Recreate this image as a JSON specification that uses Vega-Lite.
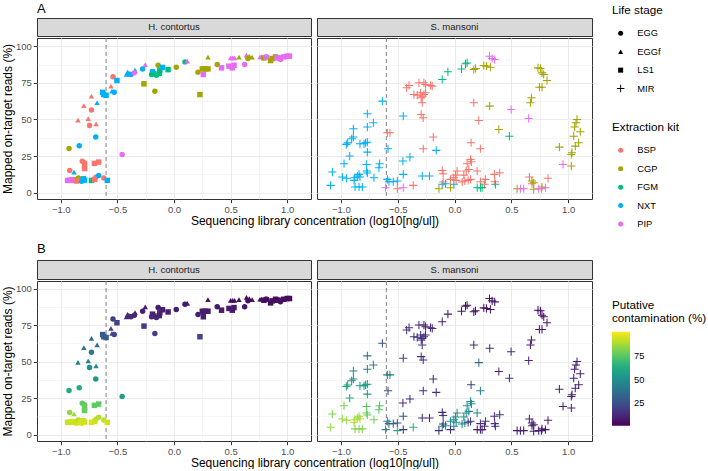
{
"$schema": "https://vega.github.io/schema/vega-lite/v6.json",
"padding": {"left": 0, "top": 2, "right": 0, "bottom": 0},
"background": "white",
"config": {
  "font": "Liberation Sans",
  "view": {"stroke": "#333333", "strokeWidth": 1},
  "axis": {"domain": false, "gridColor": "#ebebeb", "tickColor": "#333333", "tickSize": 3.7, "tickWidth": 1, "labelColor": "#4d4d4d", "labelFontSize": 9.5, "labelPadding": 2, "titleFontSize": 12, "titleFontWeight": "normal", "titleColor": "black", "labelOverlap": false, "labelFlush": false, "labelBound": false},
  "legend": {"titleFontSize": 11.7, "titleFontWeight": "normal", "titleColor": "black", "labelFontSize": 9.3, "labelColor": "black", "symbolSize": 25, "rowPadding": 8.4, "labelOffset": 12, "symbolOffset": 4, "titlePadding": 12, "symbolStrokeWidth": 0},
  "title": {"fontWeight": "normal", "color": "black"}
},
"datasets": {"pts": [
{"sp":"H. contortus","x":-0.539,"y":79.1,"st":"EGG","kit":"BSP","c":18},
{"sp":"H. contortus","x":-0.504,"y":76.6,"st":"LS1","kit":"NXT","c":20},
{"sp":"H. contortus","x":-0.557,"y":72.7,"st":"EGGf","kit":"BSP","c":22},
{"sp":"H. contortus","x":-0.63,"y":68.5,"st":"LS1","kit":"NXT","c":28},
{"sp":"H. contortus","x":-0.62,"y":67,"st":"LS1","kit":"NXT","c":30},
{"sp":"H. contortus","x":-0.60,"y":66.5,"st":"LS1","kit":"NXT","c":30},
{"sp":"H. contortus","x":-0.548,"y":69.3,"st":"EGGf","kit":"NXT","c":22},
{"sp":"H. contortus","x":-0.528,"y":68.6,"st":"EGG","kit":"NXT","c":22},
{"sp":"H. contortus","x":-0.729,"y":65.9,"st":"EGGf","kit":"BSP","c":35},
{"sp":"H. contortus","x":-0.679,"y":61.4,"st":"EGGf","kit":"NXT","c":38},
{"sp":"H. contortus","x":-0.796,"y":59.5,"st":"EGGf","kit":"BSP","c":40},
{"sp":"H. contortus","x":-0.729,"y":56.4,"st":"EGG","kit":"BSP","c":42},
{"sp":"H. contortus","x":-0.848,"y":49.5,"st":"EGGf","kit":"BSP","c":45},
{"sp":"H. contortus","x":-0.758,"y":50.5,"st":"EGGf","kit":"BSP","c":45},
{"sp":"H. contortus","x":-0.746,"y":45.9,"st":"EGG","kit":"BSP","c":50},
{"sp":"H. contortus","x":-0.688,"y":47,"st":"EGGf","kit":"BSP","c":48},
{"sp":"H. contortus","x":-0.691,"y":38,"st":"EGG","kit":"NXT","c":55},
{"sp":"H. contortus","x":-0.837,"y":32,"st":"EGG","kit":"NXT","c":62},
{"sp":"H. contortus","x":-0.927,"y":30.2,"st":"EGG","kit":"CGP","c":62},
{"sp":"H. contortus","x":-0.458,"y":26.1,"st":"EGG","kit":"PIP","c":58},
{"sp":"H. contortus","x":-0.81,"y":21.5,"st":"EGG","kit":"BSP","c":76},
{"sp":"H. contortus","x":-0.79,"y":20.5,"st":"EGG","kit":"BSP","c":77},
{"sp":"H. contortus","x":-0.79,"y":18.5,"st":"LS1","kit":"BSP","c":78},
{"sp":"H. contortus","x":-0.79,"y":16.5,"st":"LS1","kit":"BSP","c":78},
{"sp":"H. contortus","x":-0.703,"y":20,"st":"LS1","kit":"BSP","c":77},
{"sp":"H. contortus","x":-0.665,"y":20.9,"st":"LS1","kit":"BSP","c":76},
{"sp":"H. contortus","x":-0.921,"y":15.2,"st":"EGG","kit":"BSP","c":85},
{"sp":"H. contortus","x":-0.883,"y":14.1,"st":"EGGf","kit":"NXT","c":86},
{"sp":"H. contortus","x":-0.94,"y":8.4,"st":"LS1","kit":"PIP","c":93},
{"sp":"H. contortus","x":-0.92,"y":8.4,"st":"LS1","kit":"PIP","c":93},
{"sp":"H. contortus","x":-0.90,"y":8.9,"st":"LS1","kit":"PIP","c":94},
{"sp":"H. contortus","x":-0.88,"y":8.4,"st":"LS1","kit":"PIP","c":94},
{"sp":"H. contortus","x":-0.87,"y":9,"st":"EGG","kit":"BSP","c":92},
{"sp":"H. contortus","x":-0.86,"y":8,"st":"LS1","kit":"BSP","c":94},
{"sp":"H. contortus","x":-0.845,"y":10,"st":"EGG","kit":"CGP","c":90},
{"sp":"H. contortus","x":-0.83,"y":8.4,"st":"LS1","kit":"BSP","c":95},
{"sp":"H. contortus","x":-0.815,"y":7.8,"st":"EGG","kit":"NXT","c":95},
{"sp":"H. contortus","x":-0.80,"y":9.5,"st":"LS1","kit":"NXT","c":93},
{"sp":"H. contortus","x":-0.79,"y":8.6,"st":"LS1","kit":"NXT","c":94},
{"sp":"H. contortus","x":-0.729,"y":8.4,"st":"LS1","kit":"FGM","c":95},
{"sp":"H. contortus","x":-0.70,"y":9,"st":"LS1","kit":"BSP","c":94},
{"sp":"H. contortus","x":-0.69,"y":10.5,"st":"EGG","kit":"BSP","c":92},
{"sp":"H. contortus","x":-0.665,"y":11.8,"st":"EGG","kit":"NXT","c":90},
{"sp":"H. contortus","x":-0.62,"y":10,"st":"EGG","kit":"BSP","c":92},
{"sp":"H. contortus","x":-0.589,"y":8.4,"st":"LS1","kit":"NXT","c":94},
{"sp":"H. contortus","x":-0.42,"y":80.7,"st":"EGGf","kit":"NXT","c":12},
{"sp":"H. contortus","x":-0.41,"y":82.3,"st":"EGGf","kit":"NXT","c":12},
{"sp":"H. contortus","x":-0.40,"y":81,"st":"EGG","kit":"NXT","c":12},
{"sp":"H. contortus","x":-0.38,"y":80.7,"st":"EGG","kit":"NXT","c":12},
{"sp":"H. contortus","x":-0.344,"y":83.6,"st":"EGGf","kit":"NXT","c":10},
{"sp":"H. contortus","x":-0.35,"y":81.8,"st":"EGG","kit":"PIP","c":11},
{"sp":"H. contortus","x":-0.277,"y":84.5,"st":"EGG","kit":"NXT","c":10},
{"sp":"H. contortus","x":-0.254,"y":87.5,"st":"EGGf","kit":"PIP","c":8},
{"sp":"H. contortus","x":-0.265,"y":74.3,"st":"LS1","kit":"CGP","c":18},
{"sp":"H. contortus","x":-0.19,"y":82.5,"st":"LS1","kit":"NXT","c":10},
{"sp":"H. contortus","x":-0.18,"y":81.2,"st":"LS1","kit":"NXT","c":11},
{"sp":"H. contortus","x":-0.198,"y":80.7,"st":"EGG","kit":"FGM","c":11},
{"sp":"H. contortus","x":-0.169,"y":69.3,"st":"EGG","kit":"CGP","c":20},
{"sp":"H. contortus","x":-0.155,"y":80.2,"st":"EGG","kit":"FGM","c":11},
{"sp":"H. contortus","x":-0.14,"y":87,"st":"EGG","kit":"CGP","c":8},
{"sp":"H. contortus","x":-0.13,"y":81.5,"st":"LS1","kit":"FGM","c":10},
{"sp":"H. contortus","x":-0.125,"y":83.4,"st":"LS1","kit":"FGM","c":10},
{"sp":"H. contortus","x":-0.102,"y":85.5,"st":"LS1","kit":"NXT","c":9},
{"sp":"H. contortus","x":-0.052,"y":84,"st":"LS1","kit":"FGM","c":9},
{"sp":"H. contortus","x":0.02,"y":85.7,"st":"EGG","kit":"CGP","c":8},
{"sp":"H. contortus","x":0.097,"y":89.3,"st":"EGG","kit":"FGM","c":7},
{"sp":"H. contortus","x":0.118,"y":89.8,"st":"EGGf","kit":"PIP","c":7},
{"sp":"H. contortus","x":0.212,"y":82.3,"st":"EGG","kit":"CGP","c":9},
{"sp":"H. contortus","x":0.25,"y":84.5,"st":"LS1","kit":"CGP","c":8},
{"sp":"H. contortus","x":0.274,"y":84.5,"st":"LS1","kit":"CGP","c":8},
{"sp":"H. contortus","x":0.30,"y":84.5,"st":"LS1","kit":"CGP","c":8},
{"sp":"H. contortus","x":0.259,"y":80.7,"st":"LS1","kit":"PIP","c":10},
{"sp":"H. contortus","x":0.30,"y":92.5,"st":"EGGf","kit":"CGP","c":5},
{"sp":"H. contortus","x":0.229,"y":67,"st":"LS1","kit":"CGP","c":22},
{"sp":"H. contortus","x":0.382,"y":87.5,"st":"EGG","kit":"CGP","c":7},
{"sp":"H. contortus","x":0.42,"y":85.2,"st":"LS1","kit":"PIP","c":8},
{"sp":"H. contortus","x":0.485,"y":86.4,"st":"LS1","kit":"PIP","c":8},
{"sp":"H. contortus","x":0.515,"y":85.2,"st":"LS1","kit":"PIP","c":8},
{"sp":"H. contortus","x":0.53,"y":87,"st":"LS1","kit":"PIP","c":7},
{"sp":"H. contortus","x":0.50,"y":92,"st":"EGGf","kit":"PIP","c":5},
{"sp":"H. contortus","x":0.518,"y":92,"st":"EGGf","kit":"PIP","c":5},
{"sp":"H. contortus","x":0.535,"y":92,"st":"EGGf","kit":"PIP","c":5},
{"sp":"H. contortus","x":0.574,"y":92.5,"st":"EGGf","kit":"CGP","c":5},
{"sp":"H. contortus","x":0.624,"y":87.5,"st":"EGG","kit":"PIP","c":7},
{"sp":"H. contortus","x":0.64,"y":93.9,"st":"EGGf","kit":"PIP","c":4},
{"sp":"H. contortus","x":0.653,"y":91.6,"st":"EGG","kit":"CGP","c":5},
{"sp":"H. contortus","x":0.665,"y":93.2,"st":"EGGf","kit":"CGP","c":4},
{"sp":"H. contortus","x":0.69,"y":92.5,"st":"EGGf","kit":"CGP","c":4},
{"sp":"H. contortus","x":0.76,"y":92.7,"st":"EGGf","kit":"PIP","c":4},
{"sp":"H. contortus","x":0.774,"y":92.7,"st":"EGGf","kit":"PIP","c":4},
{"sp":"H. contortus","x":0.794,"y":92,"st":"LS1","kit":"CGP","c":5},
{"sp":"H. contortus","x":0.81,"y":92.7,"st":"EGG","kit":"PIP","c":4},
{"sp":"H. contortus","x":0.82,"y":92.7,"st":"EGG","kit":"PIP","c":4},
{"sp":"H. contortus","x":0.853,"y":90.2,"st":"LS1","kit":"CGP","c":5},
{"sp":"H. contortus","x":0.868,"y":91.6,"st":"LS1","kit":"CGP","c":5},
{"sp":"H. contortus","x":0.897,"y":92.7,"st":"LS1","kit":"CGP","c":4},
{"sp":"H. contortus","x":0.91,"y":92,"st":"LS1","kit":"PIP","c":4},
{"sp":"H. contortus","x":0.94,"y":92,"st":"LS1","kit":"PIP","c":4},
{"sp":"H. contortus","x":0.94,"y":91,"st":"EGG","kit":"PIP","c":5},
{"sp":"H. contortus","x":0.97,"y":92.7,"st":"LS1","kit":"PIP","c":4},
{"sp":"H. contortus","x":1.0,"y":93.2,"st":"LS1","kit":"PIP","c":4},
{"sp":"H. contortus","x":1.02,"y":93.2,"st":"LS1","kit":"PIP","c":4},
{"sp":"S. mansoni","x":-0.635,"y":62.5,"st":"MIR","kit":"NXT","c":25},
{"sp":"S. mansoni","x":-0.767,"y":53.9,"st":"MIR","kit":"NXT","c":40},
{"sp":"S. mansoni","x":-0.451,"y":52.3,"st":"MIR","kit":"NXT","c":20},
{"sp":"S. mansoni","x":-0.767,"y":44.8,"st":"MIR","kit":"NXT","c":45},
{"sp":"S. mansoni","x":-0.714,"y":47.7,"st":"MIR","kit":"NXT","c":45},
{"sp":"S. mansoni","x":-0.89,"y":43.6,"st":"MIR","kit":"NXT","c":50},
{"sp":"S. mansoni","x":-0.905,"y":36.8,"st":"MIR","kit":"NXT","c":50},
{"sp":"S. mansoni","x":-0.89,"y":38,"st":"MIR","kit":"NXT","c":50},
{"sp":"S. mansoni","x":-0.952,"y":33,"st":"MIR","kit":"NXT","c":60},
{"sp":"S. mansoni","x":-0.94,"y":34,"st":"MIR","kit":"NXT","c":58},
{"sp":"S. mansoni","x":-0.832,"y":33.4,"st":"MIR","kit":"NXT","c":55},
{"sp":"S. mansoni","x":-0.796,"y":33.4,"st":"MIR","kit":"NXT","c":55},
{"sp":"S. mansoni","x":-0.782,"y":34.1,"st":"MIR","kit":"NXT","c":55},
{"sp":"S. mansoni","x":-0.767,"y":34.5,"st":"MIR","kit":"NXT","c":55},
{"sp":"S. mansoni","x":-0.767,"y":27.7,"st":"MIR","kit":"NXT","c":55},
{"sp":"S. mansoni","x":-0.585,"y":30,"st":"MIR","kit":"NXT","c":25},
{"sp":"S. mansoni","x":-0.922,"y":25,"st":"MIR","kit":"NXT","c":62},
{"sp":"S. mansoni","x":-0.392,"y":24.3,"st":"MIR","kit":"NXT","c":15},
{"sp":"S. mansoni","x":-0.454,"y":21.6,"st":"MIR","kit":"NXT","c":15},
{"sp":"S. mansoni","x":-0.972,"y":19.8,"st":"MIR","kit":"NXT","c":80},
{"sp":"S. mansoni","x":-0.773,"y":19.3,"st":"MIR","kit":"NXT","c":75},
{"sp":"S. mansoni","x":-0.659,"y":19.8,"st":"MIR","kit":"NXT","c":75},
{"sp":"S. mansoni","x":-0.665,"y":17,"st":"MIR","kit":"NXT","c":75},
{"sp":"S. mansoni","x":-1.075,"y":14.1,"st":"MIR","kit":"NXT","c":82},
{"sp":"S. mansoni","x":-0.773,"y":14.8,"st":"MIR","kit":"NXT","c":78},
{"sp":"S. mansoni","x":-0.767,"y":13.4,"st":"MIR","kit":"NXT","c":78},
{"sp":"S. mansoni","x":-0.987,"y":10.7,"st":"MIR","kit":"NXT","c":85},
{"sp":"S. mansoni","x":-0.949,"y":9.8,"st":"MIR","kit":"NXT","c":85},
{"sp":"S. mansoni","x":-0.878,"y":10.2,"st":"MIR","kit":"NXT","c":88},
{"sp":"S. mansoni","x":-0.855,"y":11.4,"st":"MIR","kit":"NXT","c":88},
{"sp":"S. mansoni","x":-0.84,"y":12.5,"st":"MIR","kit":"NXT","c":86},
{"sp":"S. mansoni","x":-0.832,"y":10.7,"st":"MIR","kit":"NXT","c":88},
{"sp":"S. mansoni","x":-0.884,"y":8.4,"st":"MIR","kit":"NXT","c":90},
{"sp":"S. mansoni","x":-0.709,"y":10.2,"st":"MIR","kit":"NXT","c":80},
{"sp":"S. mansoni","x":-0.451,"y":12.5,"st":"MIR","kit":"NXT","c":25},
{"sp":"S. mansoni","x":-1.09,"y":5,"st":"MIR","kit":"NXT","c":85},
{"sp":"S. mansoni","x":-0.875,"y":3.9,"st":"MIR","kit":"NXT","c":82},
{"sp":"S. mansoni","x":-0.84,"y":3.9,"st":"MIR","kit":"NXT","c":82},
{"sp":"S. mansoni","x":-0.811,"y":3.9,"st":"MIR","kit":"NXT","c":82},
{"sp":"S. mansoni","x":-0.591,"y":9.1,"st":"MIR","kit":"NXT","c":45},
{"sp":"S. mansoni","x":-0.577,"y":7.5,"st":"MIR","kit":"NXT","c":35},
{"sp":"S. mansoni","x":-0.539,"y":7.5,"st":"MIR","kit":"NXT","c":30},
{"sp":"S. mansoni","x":-0.503,"y":8,"st":"MIR","kit":"NXT","c":30},
{"sp":"S. mansoni","x":-0.284,"y":11.4,"st":"MIR","kit":"NXT","c":15},
{"sp":"S. mansoni","x":-0.22,"y":11.4,"st":"MIR","kit":"NXT","c":15},
{"sp":"S. mansoni","x":-0.161,"y":28.9,"st":"MIR","kit":"NXT","c":15},
{"sp":"S. mansoni","x":-0.108,"y":5.7,"st":"MIR","kit":"NXT","c":50},
{"sp":"S. mansoni","x":-0.079,"y":6.1,"st":"MIR","kit":"NXT","c":50},
{"sp":"S. mansoni","x":-0.006,"y":5.7,"st":"MIR","kit":"NXT","c":50},
{"sp":"S. mansoni","x":-0.421,"y":71.6,"st":"MIR","kit":"BSP","c":15},
{"sp":"S. mansoni","x":-0.4,"y":73.2,"st":"MIR","kit":"BSP","c":15},
{"sp":"S. mansoni","x":-0.313,"y":75,"st":"MIR","kit":"BSP","c":12},
{"sp":"S. mansoni","x":-0.269,"y":75,"st":"MIR","kit":"BSP","c":12},
{"sp":"S. mansoni","x":-0.255,"y":73.9,"st":"MIR","kit":"BSP","c":12},
{"sp":"S. mansoni","x":-0.211,"y":73.2,"st":"MIR","kit":"BSP","c":12},
{"sp":"S. mansoni","x":-0.196,"y":72.7,"st":"MIR","kit":"BSP","c":12},
{"sp":"S. mansoni","x":-0.357,"y":67,"st":"MIR","kit":"BSP","c":15},
{"sp":"S. mansoni","x":-0.328,"y":66.6,"st":"MIR","kit":"BSP","c":15},
{"sp":"S. mansoni","x":-0.298,"y":68.2,"st":"MIR","kit":"BSP","c":15},
{"sp":"S. mansoni","x":-0.284,"y":65.9,"st":"MIR","kit":"BSP","c":15},
{"sp":"S. mansoni","x":-0.269,"y":67,"st":"MIR","kit":"BSP","c":15},
{"sp":"S. mansoni","x":-0.255,"y":68.2,"st":"MIR","kit":"BSP","c":15},
{"sp":"S. mansoni","x":-0.293,"y":64.8,"st":"MIR","kit":"BSP","c":15},
{"sp":"S. mansoni","x":-0.284,"y":61.4,"st":"MIR","kit":"BSP","c":15},
{"sp":"S. mansoni","x":-0.293,"y":53.4,"st":"MIR","kit":"BSP","c":15},
{"sp":"S. mansoni","x":-0.275,"y":51.1,"st":"MIR","kit":"BSP","c":15},
{"sp":"S. mansoni","x":-0.591,"y":40.9,"st":"MIR","kit":"BSP","c":45},
{"sp":"S. mansoni","x":-0.568,"y":40.9,"st":"MIR","kit":"BSP","c":45},
{"sp":"S. mansoni","x":-0.187,"y":38,"st":"MIR","kit":"BSP","c":15},
{"sp":"S. mansoni","x":-0.275,"y":30,"st":"MIR","kit":"BSP","c":15},
{"sp":"S. mansoni","x":-0.108,"y":15.2,"st":"MIR","kit":"BSP","c":15},
{"sp":"S. mansoni","x":-0.1,"y":13,"st":"MIR","kit":"BSP","c":15},
{"sp":"S. mansoni","x":-0.363,"y":5,"st":"MIR","kit":"BSP","c":65},
{"sp":"S. mansoni","x":-0.503,"y":2.7,"st":"MIR","kit":"BSP","c":65},
{"sp":"S. mansoni","x":0.17,"y":61.4,"st":"MIR","kit":"BSP","c":15},
{"sp":"S. mansoni","x":0.214,"y":49.3,"st":"MIR","kit":"BSP","c":35},
{"sp":"S. mansoni","x":0.146,"y":34.1,"st":"MIR","kit":"BSP","c":20},
{"sp":"S. mansoni","x":0.228,"y":30,"st":"MIR","kit":"BSP","c":45},
{"sp":"S. mansoni","x":0.141,"y":22.7,"st":"MIR","kit":"BSP","c":50},
{"sp":"S. mansoni","x":0.149,"y":21.1,"st":"MIR","kit":"BSP","c":50},
{"sp":"S. mansoni","x":0.111,"y":19.8,"st":"MIR","kit":"BSP","c":50},
{"sp":"S. mansoni","x":0.126,"y":15.9,"st":"MIR","kit":"BSP","c":48},
{"sp":"S. mansoni","x":0.103,"y":14.8,"st":"MIR","kit":"BSP","c":50},
{"sp":"S. mansoni","x":0.199,"y":14.8,"st":"MIR","kit":"BSP","c":45},
{"sp":"S. mansoni","x":0.023,"y":14.8,"st":"MIR","kit":"BSP","c":50},
{"sp":"S. mansoni","x":0.009,"y":12,"st":"MIR","kit":"BSP","c":50},
{"sp":"S. mansoni","x":-0.006,"y":10.2,"st":"MIR","kit":"BSP","c":50},
{"sp":"S. mansoni","x":0.015,"y":8.4,"st":"MIR","kit":"BSP","c":50},
{"sp":"S. mansoni","x":0.082,"y":12,"st":"MIR","kit":"BSP","c":50},
{"sp":"S. mansoni","x":0.091,"y":8,"st":"MIR","kit":"BSP","c":50},
{"sp":"S. mansoni","x":0.067,"y":7.3,"st":"MIR","kit":"BSP","c":50},
{"sp":"S. mansoni","x":0.141,"y":9.1,"st":"MIR","kit":"BSP","c":20},
{"sp":"S. mansoni","x":0.12,"y":8.4,"st":"MIR","kit":"BSP","c":20},
{"sp":"S. mansoni","x":0.228,"y":7.5,"st":"MIR","kit":"BSP","c":15},
{"sp":"S. mansoni","x":0.272,"y":9.1,"st":"MIR","kit":"BSP","c":15},
{"sp":"S. mansoni","x":0.264,"y":5.7,"st":"MIR","kit":"BSP","c":15},
{"sp":"S. mansoni","x":0.351,"y":12.5,"st":"MIR","kit":"BSP","c":15},
{"sp":"S. mansoni","x":0.398,"y":13.6,"st":"MIR","kit":"BSP","c":15},
{"sp":"S. mansoni","x":0.354,"y":7.5,"st":"MIR","kit":"BSP","c":15},
{"sp":"S. mansoni","x":0.659,"y":10.7,"st":"MIR","kit":"BSP","c":10},
{"sp":"S. mansoni","x":0.823,"y":9.8,"st":"MIR","kit":"BSP","c":10},
{"sp":"S. mansoni","x":0.682,"y":6.1,"st":"MIR","kit":"BSP","c":10},
{"sp":"S. mansoni","x":-0.035,"y":9.1,"st":"MIR","kit":"BSP","c":50},
{"sp":"S. mansoni","x":-0.1,"y":7.3,"st":"MIR","kit":"BSP","c":15},
{"sp":"S. mansoni","x":-0.108,"y":77.3,"st":"MIR","kit":"FGM","c":10},
{"sp":"S. mansoni","x":-0.058,"y":82.5,"st":"MIR","kit":"FGM","c":8},
{"sp":"S. mansoni","x":0.111,"y":88.6,"st":"MIR","kit":"FGM","c":6},
{"sp":"S. mansoni","x":0.097,"y":88,"st":"MIR","kit":"FGM","c":6},
{"sp":"S. mansoni","x":0.062,"y":84.5,"st":"MIR","kit":"FGM","c":7},
{"sp":"S. mansoni","x":0.483,"y":38.6,"st":"MIR","kit":"FGM","c":15},
{"sp":"S. mansoni","x":0.36,"y":5.7,"st":"MIR","kit":"FGM","c":15},
{"sp":"S. mansoni","x":0.2,"y":3.4,"st":"MIR","kit":"FGM","c":10},
{"sp":"S. mansoni","x":0.228,"y":3.4,"st":"MIR","kit":"FGM","c":10},
{"sp":"S. mansoni","x":0.243,"y":3.4,"st":"MIR","kit":"FGM","c":10},
{"sp":"S. mansoni","x":0.17,"y":84.1,"st":"MIR","kit":"CGP","c":6},
{"sp":"S. mansoni","x":0.185,"y":84.8,"st":"MIR","kit":"CGP","c":6},
{"sp":"S. mansoni","x":0.258,"y":86.8,"st":"MIR","kit":"CGP","c":6},
{"sp":"S. mansoni","x":0.281,"y":86.4,"st":"MIR","kit":"CGP","c":6},
{"sp":"S. mansoni","x":0.316,"y":85.7,"st":"MIR","kit":"CGP","c":6},
{"sp":"S. mansoni","x":0.31,"y":59.1,"st":"MIR","kit":"CGP","c":12},
{"sp":"S. mansoni","x":0.39,"y":43.2,"st":"MIR","kit":"CGP","c":12},
{"sp":"S. mansoni","x":0.735,"y":85.2,"st":"MIR","kit":"CGP","c":6},
{"sp":"S. mansoni","x":0.756,"y":84.8,"st":"MIR","kit":"CGP","c":6},
{"sp":"S. mansoni","x":0.77,"y":81.8,"st":"MIR","kit":"CGP","c":6},
{"sp":"S. mansoni","x":0.785,"y":80.7,"st":"MIR","kit":"CGP","c":6},
{"sp":"S. mansoni","x":0.814,"y":76.6,"st":"MIR","kit":"CGP","c":7},
{"sp":"S. mansoni","x":0.747,"y":72,"st":"MIR","kit":"CGP","c":7},
{"sp":"S. mansoni","x":0.77,"y":72,"st":"MIR","kit":"CGP","c":7},
{"sp":"S. mansoni","x":0.677,"y":64.8,"st":"MIR","kit":"CGP","c":8},
{"sp":"S. mansoni","x":0.668,"y":61.4,"st":"MIR","kit":"CGP","c":8},
{"sp":"S. mansoni","x":1.078,"y":50,"st":"MIR","kit":"CGP","c":10},
{"sp":"S. mansoni","x":1.069,"y":47.7,"st":"MIR","kit":"CGP","c":10},
{"sp":"S. mansoni","x":1.057,"y":44.8,"st":"MIR","kit":"CGP","c":10},
{"sp":"S. mansoni","x":1.107,"y":41.6,"st":"MIR","kit":"CGP","c":10},
{"sp":"S. mansoni","x":1.049,"y":38.6,"st":"MIR","kit":"CGP","c":10},
{"sp":"S. mansoni","x":1.093,"y":34.1,"st":"MIR","kit":"CGP","c":10},
{"sp":"S. mansoni","x":1.063,"y":31.8,"st":"MIR","kit":"CGP","c":10},
{"sp":"S. mansoni","x":1.034,"y":27.3,"st":"MIR","kit":"CGP","c":10},
{"sp":"S. mansoni","x":1.028,"y":26.1,"st":"MIR","kit":"CGP","c":10},
{"sp":"S. mansoni","x":0.923,"y":31.1,"st":"MIR","kit":"CGP","c":10},
{"sp":"S. mansoni","x":1.028,"y":18.2,"st":"MIR","kit":"CGP","c":10},
{"sp":"S. mansoni","x":0.682,"y":8,"st":"MIR","kit":"CGP","c":10},
{"sp":"S. mansoni","x":0.697,"y":6.8,"st":"MIR","kit":"CGP","c":10},
{"sp":"S. mansoni","x":0.551,"y":2.7,"st":"MIR","kit":"CGP","c":8},
{"sp":"S. mansoni","x":0.697,"y":2.3,"st":"MIR","kit":"CGP","c":8},
{"sp":"S. mansoni","x":0.77,"y":3.9,"st":"MIR","kit":"CGP","c":8},
{"sp":"S. mansoni","x":-0.137,"y":2.7,"st":"MIR","kit":"CGP","c":15},
{"sp":"S. mansoni","x":-0.035,"y":3.4,"st":"MIR","kit":"CGP","c":15},
{"sp":"S. mansoni","x":0.308,"y":93.2,"st":"MIR","kit":"PIP","c":5},
{"sp":"S. mansoni","x":0.331,"y":91.6,"st":"MIR","kit":"PIP","c":5},
{"sp":"S. mansoni","x":0.354,"y":90.9,"st":"MIR","kit":"PIP","c":5},
{"sp":"S. mansoni","x":0.498,"y":56.8,"st":"MIR","kit":"PIP","c":12},
{"sp":"S. mansoni","x":0.653,"y":50.7,"st":"MIR","kit":"PIP","c":12},
{"sp":"S. mansoni","x":0.955,"y":19.3,"st":"MIR","kit":"PIP","c":10},
{"sp":"S. mansoni","x":0.58,"y":2.7,"st":"MIR","kit":"PIP","c":8},
{"sp":"S. mansoni","x":0.609,"y":2.7,"st":"MIR","kit":"PIP","c":8},
{"sp":"S. mansoni","x":0.741,"y":2.7,"st":"MIR","kit":"PIP","c":8},
{"sp":"S. mansoni","x":0.765,"y":2.7,"st":"MIR","kit":"PIP","c":8},
{"sp":"S. mansoni","x":0.8,"y":3.4,"st":"MIR","kit":"PIP","c":8},
{"sp":"S. mansoni","x":-0.606,"y":3.4,"st":"MIR","kit":"PIP","c":50},
{"sp":"S. mansoni","x":-0.451,"y":3.4,"st":"MIR","kit":"PIP","c":15}
]},
"resolve": {"scale": {"color": "independent", "shape": "independent"}, "legend": {"color": "independent", "shape": "independent"}},
"spacing": 12,
"vconcat": [
 {
  "spacing": 0,
  "vconcat": [
   {"title": {"text": "A", "anchor": "start", "frame": "group", "fontSize": 13, "offset": 2},
    "hconcat": [
     {"width": 274, "height": 18, "data": {"name": "pts"}, "transform": [{"filter": "datum.sp === 'H. contortus'"}, {"aggregate": [{"op": "count", "as": "n"}], "groupby": ["sp"]}], "mark": {"type": "text", "fontSize": 9.6, "color": "#1a1a1a", "baseline": "middle"}, "encoding": {"text": {"field": "sp", "type": "nominal"}}, "view": {"fill": "#d9d9d9", "stroke": "#333333"}},
     {"width": 275, "height": 18, "data": {"name": "pts"}, "transform": [{"filter": "datum.sp === 'S. mansoni'"}, {"aggregate": [{"op": "count", "as": "n"}], "groupby": ["sp"]}], "mark": {"type": "text", "fontSize": 9.6, "color": "#1a1a1a", "baseline": "middle"}, "encoding": {"text": {"field": "sp", "type": "nominal"}}, "view": {"fill": "#d9d9d9", "stroke": "#333333"}}
   ], "spacing": 6, "bounds": "flush"},
   {"hconcat": [
     {"width": 274, "height": 161, "data": {"name": "pts"}, "transform": [{"filter": "datum.sp === 'H. contortus'"}],
      "encoding": {"x": {"field": "x", "type": "quantitative", "scale": {"domain": [-1.21, 1.21], "nice": false, "zero": false},
        "axis": {"title": "Sequencing library concentration (log10[ng/ul])", "titleX": 277.5, "titleAlign": "center", "titlePadding": 1, "values": [-1,-0.75,-0.5,-0.25,0,0.25,0.5,0.75,1], "format": ".1f", "labelExpr": "abs(datum.value % 0.5) > 0.01 ? '' : datum.label", "gridWidth": {"condition": {"test": "abs(datum.value % 0.5) > 0.01", "value": 0.5}, "value": 1}, "tickOpacity": {"condition": {"test": "abs(datum.value % 0.5) > 0.01", "value": 0}, "value": 1}}}},
      "layer": [
       {"data": {"values": [{"x": -0.6}]}, "mark": {"type": "rule", "color": "#808080", "strokeDash": [4, 3], "strokeWidth": 1}, "encoding": {}},
       {"mark": {"type": "point", "filled": true, "size": 30, "opacity": 1},
        "encoding": {
         "y": {"field": "y", "type": "quantitative", "scale": {"domain": [-4.3, 105.6], "nice": false, "zero": false},
           "axis": {"title": "Mapped on-target reads (%)", "titlePadding": 1, "values": [0,12.5,25,37.5,50,62.5,75,87.5,100], "labelExpr": "datum.value % 25 === 0 ? datum.label : ''", "gridWidth": {"condition": {"test": "datum.value % 25 !== 0", "value": 0.5}, "value": 1}, "tickOpacity": {"condition": {"test": "datum.value % 25 !== 0", "value": 0}, "value": 1}}},
         "color": {"field": "kit", "type": "nominal", "scale": {"domain": ["BSP","CGP","FGM","NXT","PIP"], "range": ["#F8766D","#A3A500","#00BF7D","#00B0F6","#E76BF3"]}, "legend": {"title": "Extraction kit", "orient": "none", "legendX": 575, "legendY": 104}},
         "shape": {"field": "st", "type": "nominal", "scale": {"domain": ["EGG","EGGf","LS1","MIR"], "range": ["circle","triangle-up","square","M-1.5,-0.19H-0.19V-1.5H0.19V-0.19H1.5V0.19H0.19V1.5H-0.19V0.19H-1.5Z"]}, "legend": {"title": "Life stage", "orient": "none", "legendX": 575, "legendY": -13, "symbolFillColor": "black"}}
        }}
      ]},
     {"width": 275, "height": 161, "data": {"name": "pts"}, "transform": [{"filter": "datum.sp === 'S. mansoni'"}],
      "encoding": {"x": {"field": "x", "type": "quantitative", "scale": {"domain": [-1.21, 1.21], "nice": false, "zero": false},
        "axis": {"title": null, "values": [-1,-0.75,-0.5,-0.25,0,0.25,0.5,0.75,1], "format": ".1f", "labelExpr": "abs(datum.value % 0.5) > 0.01 ? '' : datum.label", "gridWidth": {"condition": {"test": "abs(datum.value % 0.5) > 0.01", "value": 0.5}, "value": 1}, "tickOpacity": {"condition": {"test": "abs(datum.value % 0.5) > 0.01", "value": 0}, "value": 1}}}},
      "layer": [
       {"data": {"values": [{"x": -0.6}]}, "mark": {"type": "rule", "color": "#808080", "strokeDash": [4, 3], "strokeWidth": 1}, "encoding": {}},
       {"mark": {"type": "point", "filled": true, "size": 30, "opacity": 1},
        "encoding": {
         "y": {"field": "y", "type": "quantitative", "scale": {"domain": [-4.3, 105.6], "nice": false, "zero": false},
           "axis": {"title": null, "labels": false, "ticks": false, "values": [0,12.5,25,37.5,50,62.5,75,87.5,100], "gridWidth": {"condition": {"test": "datum.value % 25 !== 0", "value": 0.5}, "value": 1}}},
         "color": {"field": "kit", "type": "nominal", "scale": {"domain": ["BSP","CGP","FGM","NXT","PIP"], "range": ["#F8766D","#A3A500","#00BF7D","#00B0F6","#E76BF3"]}, "legend": {"title": "Extraction kit", "orient": "none", "legendX": 575, "legendY": 104}},
         "shape": {"field": "st", "type": "nominal", "scale": {"domain": ["EGG","EGGf","LS1","MIR"], "range": ["circle","triangle-up","square","M-1.5,-0.19H-0.19V-1.5H0.19V-0.19H1.5V0.19H0.19V1.5H-0.19V0.19H-1.5Z"]}, "legend": {"title": "Life stage", "orient": "none", "legendX": 575, "legendY": -13, "symbolFillColor": "black"}}
        }}
      ]}
   ], "spacing": 6, "bounds": "flush"}
  ]
 },
 {
  "spacing": 0,
  "vconcat": [
   {"title": {"text": "B", "anchor": "start", "frame": "group", "fontSize": 13, "offset": 4},
    "hconcat": [
     {"width": 274, "height": 19, "data": {"name": "pts"}, "transform": [{"filter": "datum.sp === 'H. contortus'"}, {"aggregate": [{"op": "count", "as": "n"}], "groupby": ["sp"]}], "mark": {"type": "text", "fontSize": 9.6, "color": "#1a1a1a", "baseline": "middle"}, "encoding": {"text": {"field": "sp", "type": "nominal"}}, "view": {"fill": "#d9d9d9", "stroke": "#333333"}},
     {"width": 275, "height": 19, "data": {"name": "pts"}, "transform": [{"filter": "datum.sp === 'S. mansoni'"}, {"aggregate": [{"op": "count", "as": "n"}], "groupby": ["sp"]}], "mark": {"type": "text", "fontSize": 9.6, "color": "#1a1a1a", "baseline": "middle"}, "encoding": {"text": {"field": "sp", "type": "nominal"}}, "view": {"fill": "#d9d9d9", "stroke": "#333333"}}
   ], "spacing": 6, "bounds": "flush"},
   {"hconcat": [
     {"width": 274, "height": 160, "data": {"name": "pts"}, "transform": [{"filter": "datum.sp === 'H. contortus'"}],
      "encoding": {"x": {"field": "x", "type": "quantitative", "scale": {"domain": [-1.21, 1.21], "nice": false, "zero": false},
        "axis": {"title": "Sequencing library concentration (log10[ng/ul])", "titleX": 277.5, "titleAlign": "center", "titlePadding": 1, "values": [-1,-0.75,-0.5,-0.25,0,0.25,0.5,0.75,1], "format": ".1f", "labelExpr": "abs(datum.value % 0.5) > 0.01 ? '' : datum.label", "gridWidth": {"condition": {"test": "abs(datum.value % 0.5) > 0.01", "value": 0.5}, "value": 1}, "tickOpacity": {"condition": {"test": "abs(datum.value % 0.5) > 0.01", "value": 0}, "value": 1}}}},
      "layer": [
       {"data": {"values": [{"x": -0.6}]}, "mark": {"type": "rule", "color": "#808080", "strokeDash": [4, 3], "strokeWidth": 1}, "encoding": {}},
       {"mark": {"type": "point", "filled": true, "size": 30, "opacity": 1},
        "encoding": {
         "y": {"field": "y", "type": "quantitative", "scale": {"domain": [-4.4, 105.2], "nice": false, "zero": false},
           "axis": {"title": "Mapped on-target reads (%)", "titlePadding": 1, "values": [0,12.5,25,37.5,50,62.5,75,87.5,100], "labelExpr": "datum.value % 25 === 0 ? datum.label : ''", "gridWidth": {"condition": {"test": "datum.value % 25 !== 0", "value": 0.5}, "value": 1}, "tickOpacity": {"condition": {"test": "datum.value % 25 !== 0", "value": 0}, "value": 1}}},
         "color": {"field": "c", "type": "quantitative", "scale": {"scheme": "viridis", "domain": [1, 101]}, "legend": {"title": ["Putative", "contamination (%)"], "orient": "none", "legendX": 575, "legendY": 40, "direction": "vertical", "values": [25, 50, 75], "gradientLength": 94, "gradientThickness": 18, "gradientStrokeWidth": 0, "titleLineHeight": 13, "titlePadding": 7, "labelOffset": 4}},
         "shape": {"field": "st", "type": "nominal", "scale": {"domain": ["EGG","EGGf","LS1","MIR"], "range": ["circle","triangle-up","square","M-1.5,-0.19H-0.19V-1.5H0.19V-0.19H1.5V0.19H0.19V1.5H-0.19V0.19H-1.5Z"]}, "legend": null}
        }}
      ]},
     {"width": 275, "height": 160, "data": {"name": "pts"}, "transform": [{"filter": "datum.sp === 'S. mansoni'"}],
      "encoding": {"x": {"field": "x", "type": "quantitative", "scale": {"domain": [-1.21, 1.21], "nice": false, "zero": false},
        "axis": {"title": null, "values": [-1,-0.75,-0.5,-0.25,0,0.25,0.5,0.75,1], "format": ".1f", "labelExpr": "abs(datum.value % 0.5) > 0.01 ? '' : datum.label", "gridWidth": {"condition": {"test": "abs(datum.value % 0.5) > 0.01", "value": 0.5}, "value": 1}, "tickOpacity": {"condition": {"test": "abs(datum.value % 0.5) > 0.01", "value": 0}, "value": 1}}}},
      "layer": [
       {"data": {"values": [{"x": -0.6}]}, "mark": {"type": "rule", "color": "#808080", "strokeDash": [4, 3], "strokeWidth": 1}, "encoding": {}},
       {"mark": {"type": "point", "filled": true, "size": 30, "opacity": 1},
        "encoding": {
         "y": {"field": "y", "type": "quantitative", "scale": {"domain": [-4.4, 105.2], "nice": false, "zero": false},
           "axis": {"title": null, "labels": false, "ticks": false, "values": [0,12.5,25,37.5,50,62.5,75,87.5,100], "gridWidth": {"condition": {"test": "datum.value % 25 !== 0", "value": 0.5}, "value": 1}}},
         "color": {"field": "c", "type": "quantitative", "scale": {"scheme": "viridis", "domain": [1, 101]}, "legend": {"title": ["Putative", "contamination (%)"], "orient": "none", "legendX": 575, "legendY": 40, "direction": "vertical", "values": [25, 50, 75], "gradientLength": 94, "gradientThickness": 18, "gradientStrokeWidth": 0, "titleLineHeight": 13, "titlePadding": 7, "labelOffset": 4}},
         "shape": {"field": "st", "type": "nominal", "scale": {"domain": ["EGG","EGGf","LS1","MIR"], "range": ["circle","triangle-up","square","M-1.5,-0.19H-0.19V-1.5H0.19V-0.19H1.5V0.19H0.19V1.5H-0.19V0.19H-1.5Z"]}, "legend": null}
        }}
      ]}
   ], "spacing": 6, "bounds": "flush"}
  ]
 }
]
}
